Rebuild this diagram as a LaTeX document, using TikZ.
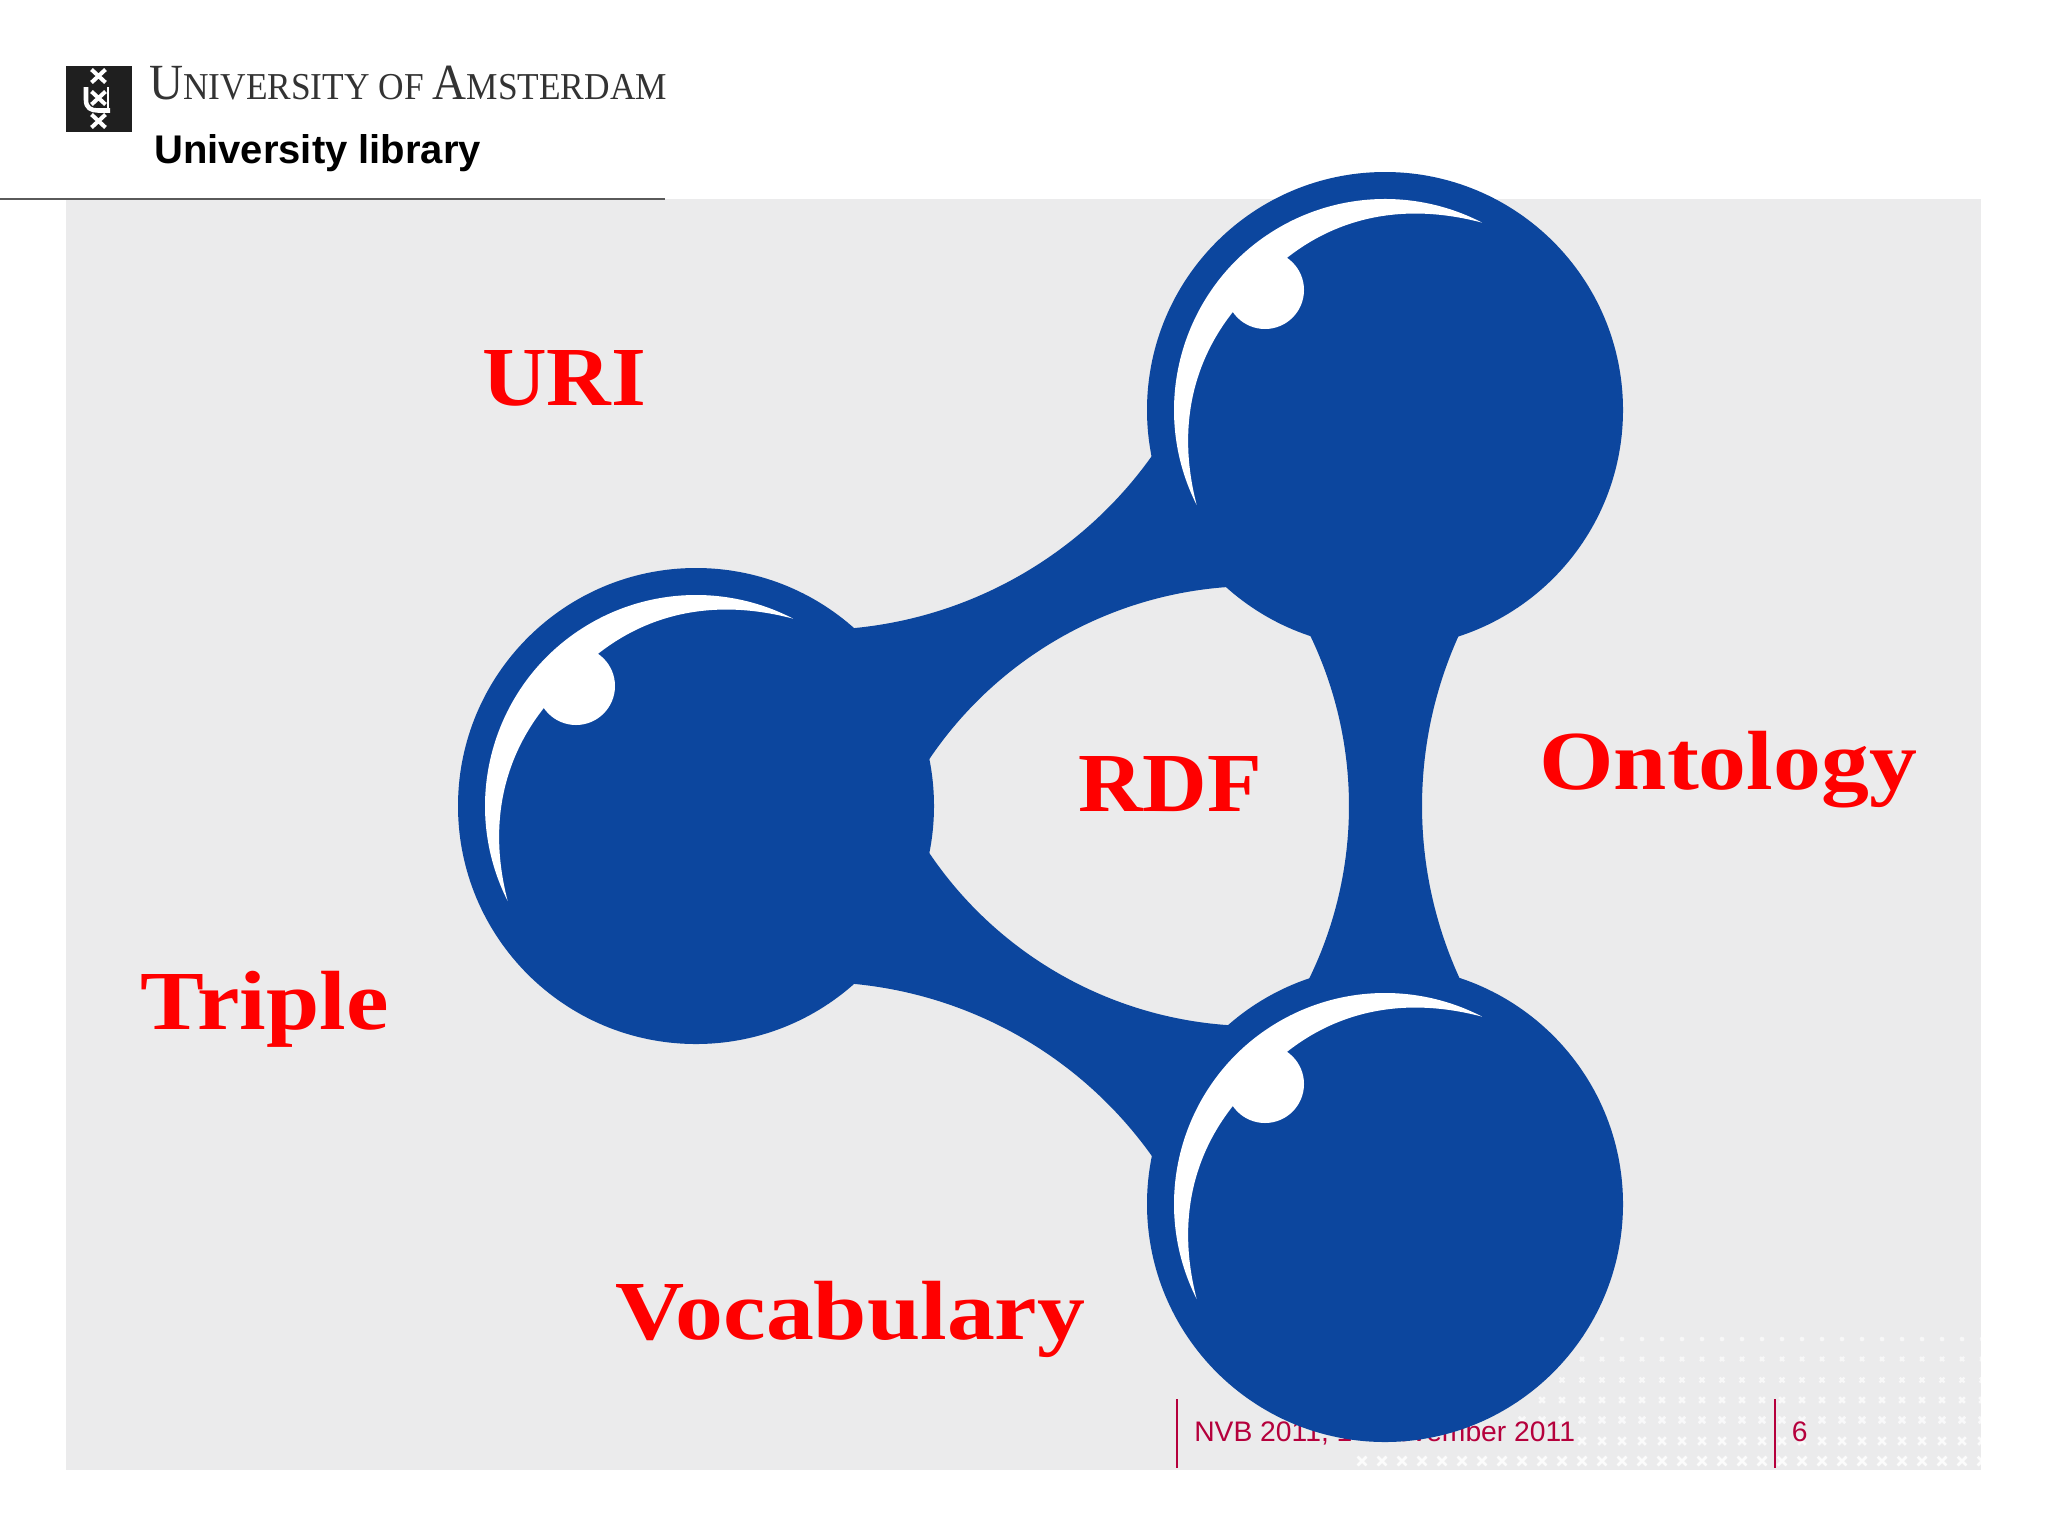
\documentclass[tikz,border=0pt]{standalone}
\usepackage{fontspec}
\setmainfont{Liberation Serif}
\setsansfont{Liberation Sans}
\newfontfamily\termfont{Liberation Serif}[FakeStretch=1.14]
\newfontfamily\acrofont{Liberation Serif}[FakeStretch=1.065]
\newfontfamily\uvafont{Liberation Serif}[FakeStretch=0.93]
\usepackage{xcolor}
\definecolor{ballblue}{HTML}{0C469E}
\definecolor{slidegray}{HTML}{EBEBEC}
\definecolor{footred}{HTML}{B5003C}
\tikzset{
  textnode/.style={anchor=north west,inner sep=0.75pt},
  termtext/.style={textnode,text=red,font=\termfont\bfseries\fontsize{63}{63}\selectfont},
  acrotext/.style={textnode,text=red,font=\acrofont\bfseries\fontsize{63}{63}\selectfont},
  foottext/.style={textnode,text=footred,font=\sffamily\fontsize{21.2}{24}\selectfont},
  logocross/.style={white,line width=3pt},
  ballfill/.style={fill=ballblue},
  shinefill/.style={fill=white}
}
\newcommand{\uvacap}[1]{{\fontsize{38}{38}\selectfont #1}}
\newcommand{\ballshine}[2]{%
  \begin{scope}[shift={(#1,#2)}]
  \fill [shinefill] (-188.3,95.1) arc (153.2:297.4:211) .. controls (0,-213) and (-75,-182) .. (-126,-126) .. controls (-182,-75) and (-213,0) .. (-188.3,95.1) -- cycle;
  \fill [shinefill] (-120,-120) circle (39);
  \end{scope}}

\begin{document}
\begin{tikzpicture}[x=0.75pt,y=0.75pt,yscale=-1,xscale=1]
\useasboundingbox (0,0) rectangle (2048,1536);

%Shape: Rectangle
\fill [slidegray] (66,199) rectangle (1981,1470);
%Shape: Line
\draw [color={rgb, 255:red, 90; green, 90; blue, 90 },line width=1.2pt] (0,199) -- (665,199);

%Shape: Rectangle
\fill [black!88] (66,66) rectangle (132,132);
\foreach \yy in {76,98,121} {
  \draw [logocross] (91.5,\yy-6.5) -- (105.5,\yy+6.5) (105.5,\yy-6.5) -- (91.5,\yy+6.5);
}
\draw [white,line width=3.4pt] (86,87) -- (86,100) .. controls (86,108) and (91,110.5) .. (98,110.5) -- (110,110.5);
\draw [white,line width=1.5pt] (108,87) -- (108,111);

% Text Node
\draw (148,65) node (uvaname) [textnode,text=black!80,font=\uvafont\fontsize{28.5}{30}\selectfont] {\uvacap{U}NIVERSITY OF \uvacap{A}MSTERDAM};
% Text Node
\draw (153,133) node (liblabel) [textnode,font=\sffamily\bfseries\fontsize{30}{32}\selectfont] {University library};

%Shape: Dots
\begin{scope}
\clip (66,199) rectangle (1981,1470);
\foreach \yy/\xstart/\sz/\wd/\op in {1339/1602/1.6/1.6/0.6,1359/1582/2/1.7/0.6,1380/1562/2.4/1.8/0.65,1400/1542/2.8/1.9/0.7,1420/1522/3.2/2/0.75,1441/1582/3.8/2/0.8,1461/1362/4.4/2.1/0.85} {
  \foreach \xx in {0,...,31} {
    \pgfmathsetmacro{\xpos}{\xstart+20*\xx}
    \pgfmathparse{\xpos<1990?1:0}
    \ifnum\pgfmathresult=1
      \draw [white,opacity=\op,line width=\wd pt] (\xpos-\sz,\yy-\sz) -- (\xpos+\sz,\yy+\sz) (\xpos+\sz,\yy-\sz) -- (\xpos-\sz,\yy+\sz);
    \fi
  }
}
\end{scope}

%Shape: Line
\draw [footred,line width=1pt] (1177,1399) -- (1177,1468);
\draw [footred,line width=1pt] (1775,1399) -- (1775,1468);
% Text Node
\draw (1193,1420) node (footdate) [foottext] {NVB 2011, 14 November 2011};
% Text Node
\draw (1790.5,1420) node (footpage) [foottext] {6};

%Shape: Links
\fill [ballfill,even odd rule]
  (850.6,628.4) arc (85:34.5:414) -- (1460.8,631) arc (205:155:414) -- (1155.7,1161.5) arc (-34.5:-85:414) -- cycle
  (925.4,765) arc (213:267:393) -- (1307.6,630.2) arc (-26.5:26.5:394) -- (1234.4,1025.5) arc (93:147:393) -- cycle;

%Shape: Circle
\fill [ballfill] (696,806) circle (238);
\fill [ballfill] (1385,410) circle (238);
\fill [ballfill] (1385,1204) circle (238);

%Shape: Crescent
\ballshine{696}{806}
\ballshine{1385}{410}
\ballshine{1385}{1204}

% Text Node
\draw (481,349) node (uri) [acrotext] {URI};
% Text Node
\draw (1077,755) node (rdf) [acrotext] {RDF};
% Text Node
\draw (1538,730) node (ontology) [termtext] {Ontology};
% Text Node
\draw (139,970) node (triple) [termtext] {Triple};
% Text Node
\draw (614,1280) node (vocabulary) [termtext] {Vocabulary};
\end{tikzpicture}
\end{document}
